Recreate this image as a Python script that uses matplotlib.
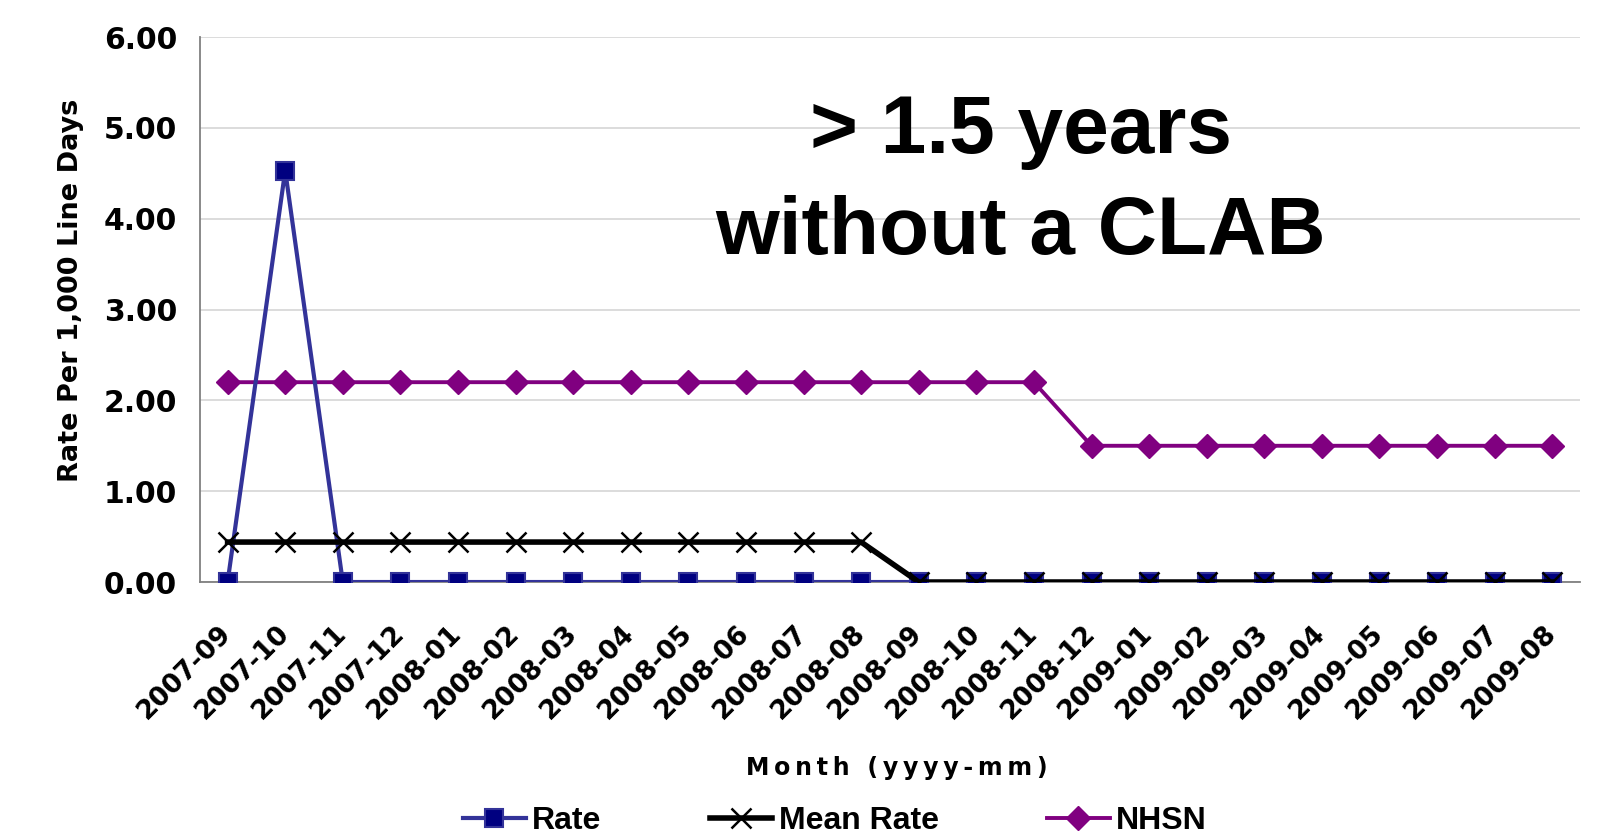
import matplotlib
matplotlib.use("Agg")
from matplotlib import pyplot as plt
from matplotlib.transforms import ScaledTranslation

months = ["2007-09", "2007-10", "2007-11", "2007-12", "2008-01", "2008-02",
          "2008-03", "2008-04", "2008-05", "2008-06", "2008-07", "2008-08",
          "2008-09", "2008-10", "2008-11", "2008-12", "2009-01", "2009-02",
          "2009-03", "2009-04", "2009-05", "2009-06", "2009-07", "2009-08"]
rate = [0.00, 4.53, 0.00, 0.00, 0.00, 0.00, 0.00, 0.00, 0.00, 0.00, 0.00, 0.00,
        0.00, 0.00, 0.00, 0.00, 0.00, 0.00, 0.00, 0.00, 0.00, 0.00, 0.00, 0.00]
mean_rate = [0.44, 0.44, 0.44, 0.44, 0.44, 0.44, 0.44, 0.44, 0.44, 0.44, 0.44, 0.44,
             0.00, 0.00, 0.00, 0.00, 0.00, 0.00, 0.00, 0.00, 0.00, 0.00, 0.00, 0.00]
nhsn = [2.2, 2.2, 2.2, 2.2, 2.2, 2.2, 2.2, 2.2, 2.2, 2.2, 2.2, 2.2,
        2.2, 2.2, 2.2, 1.5, 1.5, 1.5, 1.5, 1.5, 1.5, 1.5, 1.5, 1.5]
yticks = [0, 1, 2, 3, 4, 5, 6]

fig = plt.figure(figsize=(16.1, 8.36), dpi=100)
ax = fig.add_axes([0.1242, 0.3038, 0.8571, 0.6519])

x = list(range(len(months)))
ax.plot(x, nhsn, color="#800080", lw=2.8, marker="D", ms=12,
        mfc="#800080", mec="#800080", label="NHSN", zorder=3)
ax.plot(x, rate, color="#333399", lw=3, marker="s", ms=13,
        mfc="#000080", mec="#333399", mew=1.5, label="Rate", zorder=4)
ax.plot(x, mean_rate, color="black", lw=4, marker="x", ms=14, mew=1.8,
        label="Mean Rate", zorder=5)

ax.set_xlim(-0.48, len(months) - 0.52)
ax.set_ylim(0, 6)
ax.set_yticks(yticks)
ax.set_yticklabels(["%.2f" % v for v in yticks], fontsize=21.5,
                   fontweight="bold", family="DejaVu Sans")
ax.set_xticks(x)
ax.set_xticklabels(months, rotation=45, ha="right", va="center",
                   rotation_mode="anchor", fontsize=19, fontweight="bold",
                   family="DejaVu Sans")
shift = ScaledTranslation(-22 / 100, 0, fig.dpi_scale_trans)
for lab in ax.get_xticklabels():
    lab.set_transform(lab.get_transform() + shift)
ax.tick_params(axis="y", length=0, pad=16.5)
ax.tick_params(axis="x", length=0, pad=34)
ax.yaxis.grid(True, color="#d9d9d9", lw=1.3)
ax.set_axisbelow(True)
for s in ["top", "right"]:
    ax.spines[s].set_visible(False)
ax.spines["left"].set_color("#808080")
ax.spines["bottom"].set_color("#808080")
ax.spines["left"].set_linewidth(1.3)
ax.spines["bottom"].set_linewidth(1.3)

ax.set_ylabel("Rate Per 1,000 Line Days", fontsize=19.5, fontweight="bold",
              family="DejaVu Sans")
ax.yaxis.set_label_coords(-0.084, 0.536)
fig.text(0.557, 0.081, "\u2009".join("Month (yyyy-mm)"), fontsize=17,
         fontweight="bold", family="DejaVu Sans", ha="center", va="center")

fig.text(0.634, 0.782, "> 1.5 years\nwithout a CLAB", fontsize=59,
         fontweight="bold", family="Liberation Sans", ha="center",
         va="center", linespacing=1.42)

h, l = ax.get_legend_handles_labels()
order = [1, 2, 0]
leg = fig.legend([h[i] for i in order], [l[i] for i in order], loc="center",
                 bbox_to_anchor=(0.5186, 0.0175), ncol=3, frameon=False,
                 prop={"family": "Liberation Sans", "weight": "bold", "size": 23},
                 columnspacing=3.4, handlelength=1.95, handletextpad=0.2,
                 markerscale=1.0, borderpad=0)

fig.savefig("out.png", dpi=100)
